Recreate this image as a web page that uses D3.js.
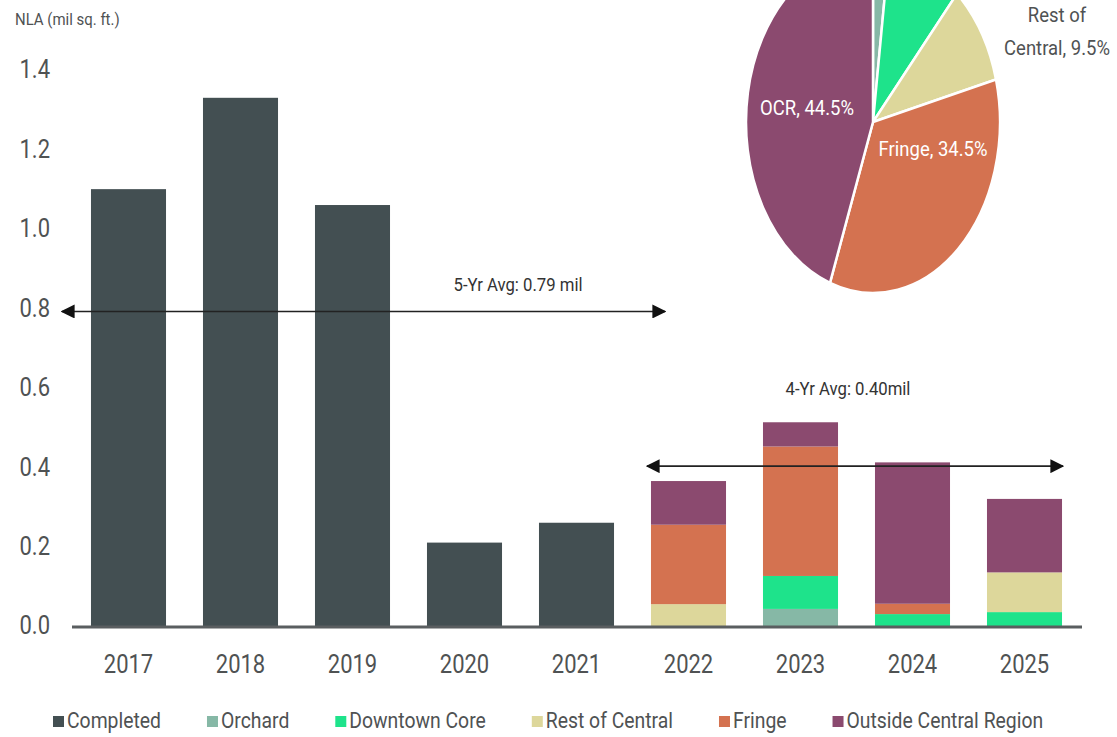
<!DOCTYPE html>
<html>
<head>
<meta charset="utf-8">
<script src="https://cdn.jsdelivr.net/npm/d3@7/dist/d3.min.js"></script>
<style>
  html, body { margin: 0; padding: 0; background: #fff; }
  svg { display: block; }
  text { font-family: Roboto, "Noto Sans", sans-serif; }
</style>
</head>
<body>
<svg id="chart" width="1117" height="737"></svg>
<script>
// ---- data ----
const years = ["2017", "2018", "2019", "2020", "2021", "2022", "2023", "2024", "2025"];
const completed = [1.10, 1.33, 1.06, 0.21, 0.26, 0, 0, 0, 0];
const orchard = [0, 0, 0, 0, 0, 0, 0.043, 0, 0];
const downtownCore = [0, 0, 0, 0, 0, 0, 0.083, 0.030, 0.035];
const restOfCentral = [0, 0, 0, 0, 0, 0.055, 0, 0, 0.100];
const fringe = [0, 0, 0, 0, 0, 0.200, 0.326, 0.026, 0];
const outsideCentral = [0, 0, 0, 0, 0, 0.110, 0.061, 0.356, 0.185];

const seriesNames = ["Completed", "Orchard", "Downtown Core", "Rest of Central", "Fringe", "Outside Central Region"];
const seriesColors = ["#434f52", "#86b8a6", "#1ee38b", "#ddd79b", "#d47250", "#8b4a6f"];

const yTicks = [0, 0.2, 0.4, 0.6, 0.8, 1.0, 1.2, 1.4];

// pipeline share (2022-2025), clockwise from 12 o'clock
const pieNames = ["Orchard", "Downtown Core", "Rest of Central", "Fringe", "OCR"];
const pieShares = [2.0, 9.5, 9.5, 34.5, 44.5];
const pieColors = ["#86b8a6", "#1ee38b", "#ddd79b", "#d47250", "#8b4a6f"];

// average periods
const avg5Years = ["2017", "2018", "2019", "2020", "2021"];
const avg4Years = ["2022", "2023", "2024", "2025"];

// ---- layout ----
const svg = d3.select("#chart");
const squeeze = 0.88;   // condensed look for all text
const textColor = "#4f5253";

const x = d3.scaleBand().domain(years).range([72.5, 1080.5]).paddingInner(0.33).paddingOuter(0.165);
const y = d3.scaleLinear().domain([0, 1.4]).range([626, 70]);

function label(sel, px, py, str, opts = {}) {
  const g = sel.append("g").attr("transform", `translate(${px},${py}) scale(${squeeze},1)`);
  const t = g.append("text")
    .attr("text-anchor", opts.anchor || "start")
    .attr("dominant-baseline", "central")
    .attr("font-size", opts.size || 20)
    .attr("fill", opts.color || textColor)
    .text(str);
  return t;
}

// stacked rows per year
const rows = years.map((yr, i) => ({
  year: yr,
  "Completed": completed[i],
  "Orchard": orchard[i],
  "Downtown Core": downtownCore[i],
  "Rest of Central": restOfCentral[i],
  "Fringe": fringe[i],
  "Outside Central Region": outsideCentral[i]
}));
const stacked = d3.stack().keys(seriesNames)(rows);
const color = d3.scaleOrdinal().domain(seriesNames).range(seriesColors);

// ---- bars ----
const barG = svg.append("g");
stacked.forEach(layer => {
  barG.append("g").attr("fill", color(layer.key))
    .selectAll("rect")
    .data(layer.filter(d => d[1] - d[0] > 0))
    .join("rect")
    .attr("x", d => x(d.data.year))
    .attr("width", x.bandwidth())
    .attr("y", d => y(d[1]))
    .attr("height", d => y(d[0]) - y(d[1]));
});

// ---- baseline ----
svg.append("line")
  .attr("x1", 72).attr("x2", 1082)
  .attr("y1", y(0) + 1).attr("y2", y(0) + 1)
  .attr("stroke", "#5a5e60").attr("stroke-width", 3);

// ---- y-axis labels ----
const yAxisG = svg.append("g");
yTicks.forEach(v => label(yAxisG, 50, y(v), d3.format(".1f")(v), { anchor: "end", size: 25 }));
label(svg, 15, 19, "NLA (mil sq. ft.)", { size: 17 });

// ---- x-axis labels ----
const xAxisG = svg.append("g");
years.forEach(yr => label(xAxisG, x(yr) + x.bandwidth() / 2, 665, yr, { anchor: "middle", size: 25 }));

// ---- average arrows ----
const defs = svg.append("defs");
defs.append("marker").attr("id", "arrowHead")
  .attr("viewBox", "0 0 10 10").attr("refX", 9).attr("refY", 5)
  .attr("markerWidth", 14).attr("markerHeight", 14)
  .attr("markerUnits", "userSpaceOnUse")
  .attr("orient", "auto-start-reverse")
  .append("path").attr("d", "M0,0 L10,5 L0,10 Z").attr("fill", "#111");

function totalFor(yr) {
  const i = years.indexOf(yr);
  return completed[i] + orchard[i] + downtownCore[i] + restOfCentral[i] + fringe[i] + outsideCentral[i];
}
const avg5 = d3.mean(avg5Years, totalFor);
const avg4 = d3.mean(avg4Years, totalFor);

function avgArrow(x1, x2, value, text, tx, dy) {
  svg.append("line")
    .attr("x1", x1).attr("x2", x2)
    .attr("y1", y(value)).attr("y2", y(value))
    .attr("stroke", "#222").attr("stroke-width", 1.6)
    .attr("marker-start", "url(#arrowHead)")
    .attr("marker-end", "url(#arrowHead)");
  label(svg, tx, y(value) - dy, text, { anchor: "middle", size: 19, color: "#333" });
}
avgArrow(62, 665, avg5, `5-Yr Avg: ${d3.format(".2f")(avg5)} mil`, 518, 27);
avgArrow(647, 1063, avg4, `4-Yr Avg: ${d3.format(".2f")(avg4)}mil`, 848, 78);

// ---- pie ----
const cx = 873, cy = 122, rx = 127, ry = 171;
const pie = d3.pie().sort(null).value(d => d)(pieShares);
const arc = d3.arc().innerRadius(0).outerRadius(rx);
const pieG = svg.append("g").attr("transform", `translate(${cx},${cy}) scale(1,${ry / rx})`);
pieG.selectAll("path").data(pie).join("path")
  .attr("d", arc)
  .attr("fill", (d, i) => pieColors[i])
  .attr("stroke", "#fff").attr("stroke-width", 2.5)
  .attr("vector-effect", "non-scaling-stroke");

const pct = v => `${d3.format(".1f")(v)}%`;
label(svg, 807, 108, `${pieNames[4]}, ${pct(pieShares[4])}`, { anchor: "middle", size: 21, color: "#fff" });
label(svg, 933, 149, `${pieNames[3]}, ${pct(pieShares[3])}`, { anchor: "middle", size: 21, color: "#fff" });
label(svg, 1057, 15, "Rest of", { anchor: "middle", size: 21 });
label(svg, 1057, 48, `Central, ${pct(pieShares[2])}`, { anchor: "middle", size: 21 });

// ---- legend ----
const legendG = svg.append("g");
let lx = 53;
seriesNames.forEach((name, i) => {
  legendG.append("rect").attr("x", lx).attr("y", 716).attr("width", 11).attr("height", 11).attr("fill", seriesColors[i]);
  const t = label(legendG, lx + 14, 721, name, { size: 22 });
  const w = t.node().getComputedTextLength() * squeeze;
  lx += 14 + w + 46;
});
</script>
</body>
</html>
